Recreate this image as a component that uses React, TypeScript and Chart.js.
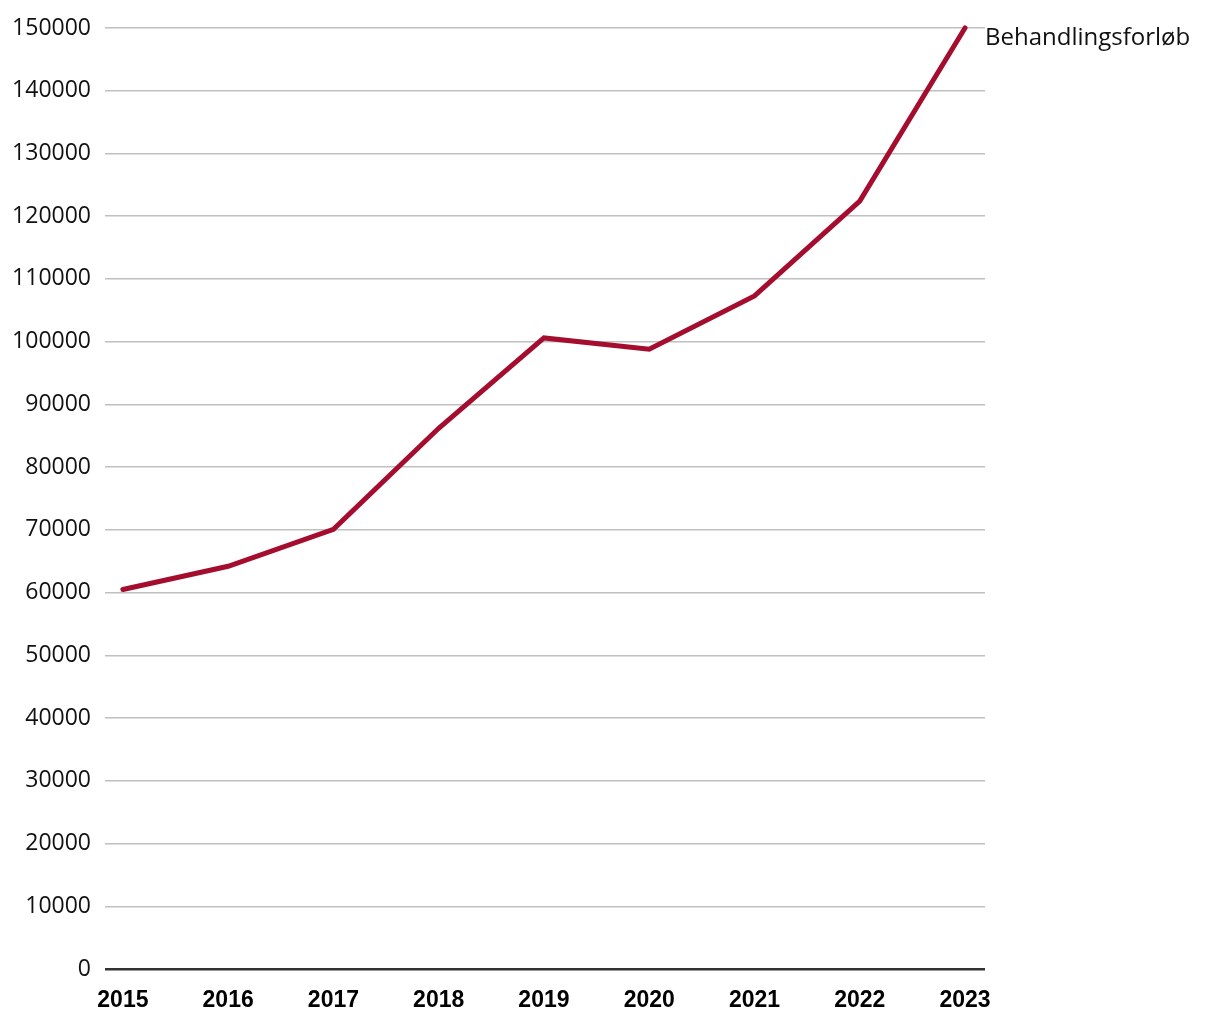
import React, { useEffect, useRef } from "react";
import { Chart, registerables } from "chart.js";

Chart.register(...registerables);

const years = [2015, 2016, 2017, 2018, 2019, 2020, 2021, 2022, 2023];
const values = [60500, 64200, 70100, 86200, 100600, 98800, 107300, 122400, 150000];
const seriesLabel = "Behandlingsforløb";
const yTicks = [0, 10000, 20000, 30000, 40000, 50000, 60000, 70000, 80000, 90000, 100000, 110000, 120000, 130000, 140000, 150000];

const endLabel = {
  id: "endLabel",
  afterDatasetsDraw(chart: any) {
    const meta = chart.getDatasetMeta(0);
    const last = meta.data[meta.data.length - 1];
    if (!last) return;
    const ctx = chart.ctx;
    ctx.save();
    ctx.font = "24px 'Open Sans'";
    ctx.fillStyle = "#111";
    ctx.textAlign = "left";
    ctx.textBaseline = "alphabetic";
    ctx.fillText(seriesLabel, last.x + 20, last.y + 17);
    ctx.restore();
  },
};

export default function App() {
  const ref = useRef<HTMLCanvasElement>(null);
  useEffect(() => {
    document.body.style.margin = "0";
    const chart = new Chart(ref.current!, {
      type: "line",
      data: {
        datasets: [
          {
            label: seriesLabel,
            data: years.map((y, i) => ({ x: y, y: values[i] })),
            borderColor: "#A50D2F",
            borderWidth: 5,
            borderCapStyle: "round",
            borderJoinStyle: "miter",
            pointRadius: 0,
            tension: 0,
            clip: false as any,
          },
        ],
      },
      options: {
        animation: false,
        responsive: false,
        layout: { padding: { top: 28, right: 235, left: 0, bottom: 0 } },
        plugins: { legend: { display: false }, tooltip: { enabled: false } },
        scales: {
          x: {
            type: "linear",
            min: 2014.83,
            max: 2023.19,
            afterBuildTicks(scale: any) {
              scale.ticks = years.map((v) => ({ value: v }));
            },
            afterFit(scale: any) {
              scale.height = 51;
            },
            grid: { display: false, drawTicks: false },
            border: { display: false },
            ticks: {
              padding: 18,
              color: "#000",
              font: { family: "'Liberation Sans', Arial, sans-serif", size: 23, weight: "bold" },
              callback: (v: any) => String(v),
            },
          },
          y: {
            min: 0,
            max: 150000,
            afterBuildTicks(scale: any) {
              scale.ticks = yTicks.map((v) => ({ value: v }));
            },
            afterFit(scale: any) {
              scale.width = 105;
            },
            grid: {
              drawTicks: false,
              color: (c: any) => (c.tick && c.tick.value === 0 ? "#333333" : "#C0C0C0"),
              lineWidth: (c: any) => (c.tick && c.tick.value === 0 ? 2.5 : 1.5),
            },
            border: { display: false },
            ticks: {
              padding: 14,
              color: "#111",
              font: { family: "'Open Sans', sans-serif", size: 23 },
              callback: (v: any) => String(v),
            },
          },
        },
      },
      plugins: [endLabel],
    });
    return () => chart.destroy();
  }, []);
  return <canvas ref={ref} width={1220} height={1020} style={{ display: "block" }} />;
}
